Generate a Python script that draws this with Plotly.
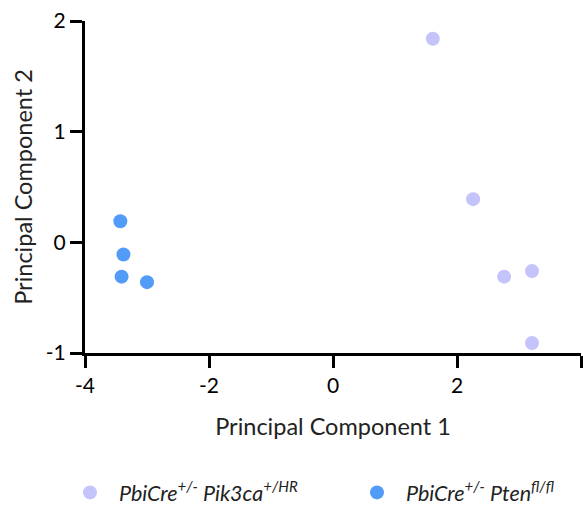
import plotly.graph_objects as go

# Data
pik3ca_pc1 = [1.61, 2.26, 2.76, 3.21, 3.21]
pik3ca_pc2 = [1.84, 0.39, -0.31, -0.26, -0.91]
pten_pc1 = [-3.43, -3.38, -3.41, -3.00]
pten_pc2 = [0.19, -0.11, -0.31, -0.36]

series_names = ["<i>PbiCre<sup>+/-</sup> Pik3ca<sup>+/HR</sup></i>",
                "<i>PbiCre<sup>+/-</sup> Pten<sup>fl/fl</sup></i>"]
x_ticks = [-4, -2, 0, 2, 4]
x_tick_labels = ["-4", "-2", "0", "2", "4"]
y_ticks = [-1, 0, 1, 2]
y_tick_labels = ["-1", "0", "1", "2"]

FONT = "Lato"

fig = go.Figure()
fig.add_trace(go.Scatter(x=pik3ca_pc1, y=pik3ca_pc2, mode="markers",
                         name=series_names[0],
                         marker=dict(size=14, color="#c4c4fb", line=dict(width=0)),
                         cliponaxis=False))
fig.add_trace(go.Scatter(x=pten_pc1, y=pten_pc2, mode="markers",
                         name=series_names[1],
                         marker=dict(size=14, color="#529bf6", line=dict(width=0)),
                         cliponaxis=False))

axis_common = dict(showline=True, linewidth=3, linecolor="black", ticks="outside",
                   ticklen=12, tickwidth=3, tickcolor="black", showgrid=False,
                   zeroline=False, tickfont=dict(family=FONT, size=21, color="black"))

fig.update_layout(
    width=583, height=506,
    margin=dict(l=85, r=2, t=21, b=153, autoexpand=False),
    paper_bgcolor="white", plot_bgcolor="white",
    font=dict(family=FONT, size=20, color="black"),
    xaxis=dict(range=[-4, 4], tickvals=x_ticks, ticktext=x_tick_labels,
               title=dict(text="Principal Component 1", standoff=23,
                          font=dict(family=FONT, size=23.5, color="#222")),
               **axis_common),
    yaxis=dict(range=[-1, 2], tickvals=y_ticks, ticktext=y_tick_labels,
               title=dict(text="Principal Component 2", standoff=7,
                          font=dict(family=FONT, size=23.5, color="#222")),
               **axis_common),
    legend=dict(orientation="h", x=-0.0484, xanchor="left", y=-0.42, yanchor="middle",
                itemwidth=48, entrywidth=224, entrywidthmode="pixels",
                font=dict(family=FONT, size=21.5, color="#222")),
)

fig.write_html("out.html")
